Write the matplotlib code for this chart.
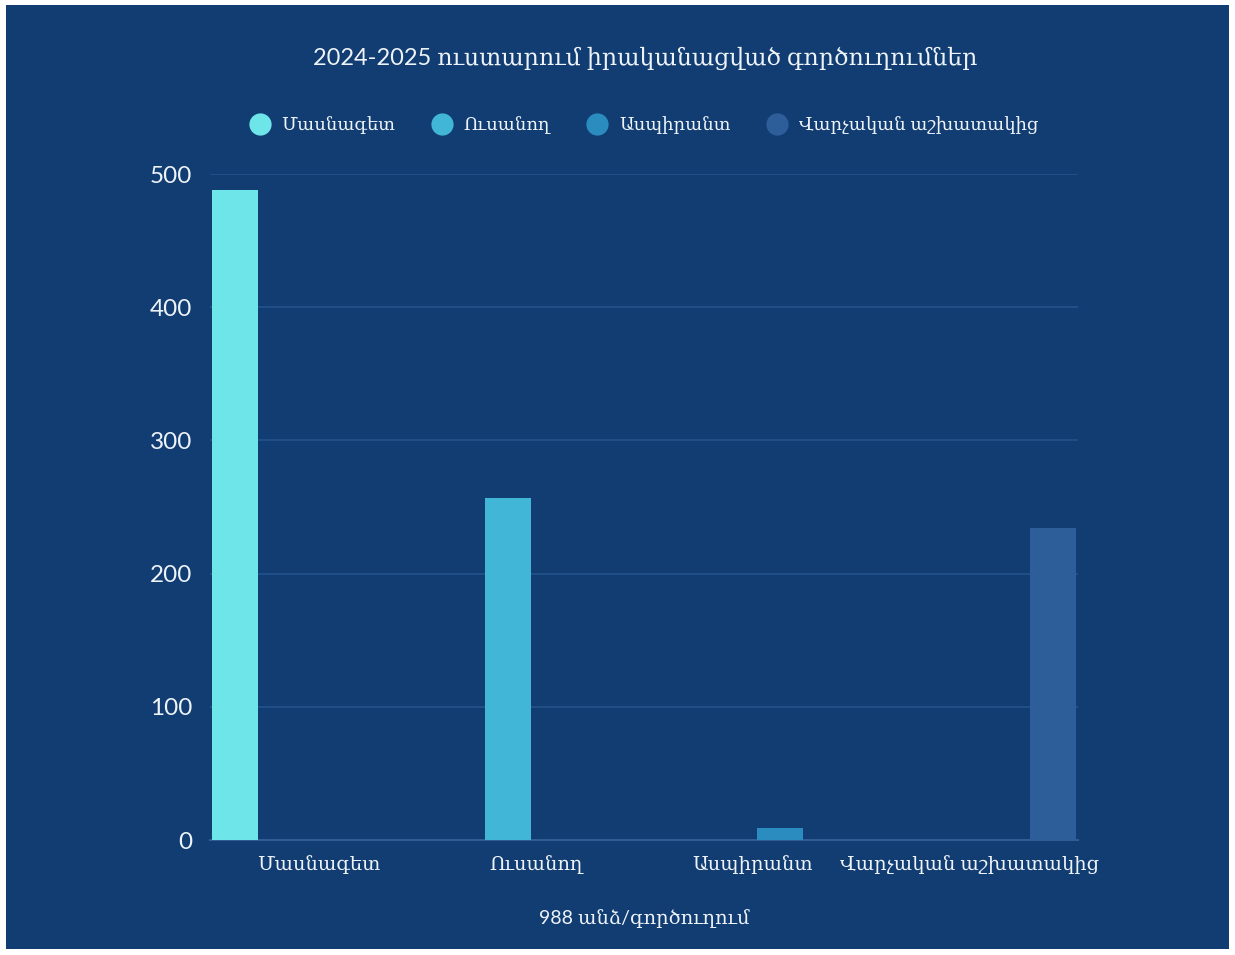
import matplotlib.pyplot as plt
import numpy as np
from matplotlib.lines import Line2D
from matplotlib.patches import Rectangle

plt.rcParams["font.family"] = ["Lato", "DejaVu Serif"]

# Դաշտեր
categories = ["Մասնագետ", "Ուսանող", "Ասպիրանտ", "Վարչական աշխատակից"]
series = ["Մասնագետ", "Ուսանող", "Ասպիրանտ", "Վարչական աշխատակից"]
values = [488, 257, 9, 234]
colors = ["#6ee6e9", "#41b6d6", "#2b8cbf", "#2e5e99"]
yticks = [0, 100, 200, 300, 400, 500]

title = "2024-2025 ուստարում իրականացված գործուղումներ"
xlabel = "988 անձ/գործուղում"

BG = "#113d73"
GRID = "#24528c"
TXT = "#eef3f8"

fig = plt.figure(figsize=(12.35, 9.55), dpi=100, facecolor="white")
fig.patches.append(Rectangle((6 / 1235, 6 / 955), 1223 / 1235, 944 / 955,
                             transform=fig.transFigure, facecolor=BG,
                             edgecolor="none", zorder=-10))

ax = fig.add_axes([210 / 1235, 1 - 840 / 955, 868 / 1235, 666 / 955])
ax.set_facecolor(BG)
ax.patch.set_alpha(0)

x = np.arange(len(categories))
slot = 0.258
width = 0.212
for i, (name, val, col) in enumerate(zip(series, values, colors)):
    ax.bar(x[i] + (i - 1.5) * slot, val, width=width, color=col, zorder=3)

ax.set_xlim(-0.5, len(categories) - 0.5)
ax.set_ylim(0, 500)
ax.set_yticks(yticks)
ax.set_xticks(x)
ax.set_xticklabels(categories, fontsize=14, color=TXT)
ax.tick_params(axis="y", labelsize=17.5, colors=TXT, length=0, pad=13)
ax.tick_params(axis="x", length=0, pad=11)
ax.grid(axis="y", color=GRID, linewidth=1.2, zorder=0)
for s in ["top", "right", "left"]:
    ax.spines[s].set_visible(False)
ax.spines["bottom"].set_color("#2f5d94")
ax.spines["bottom"].set_linewidth(1.5)

ax.set_xlabel(xlabel, fontsize=14, color=TXT, labelpad=25)

fig.text(645 / 1235, 1 - 58 / 955, title, ha="center", va="center",
         fontsize=17, color=TXT)

handles = [Line2D([], [], marker="o", linestyle="none", markersize=16,
                  markerfacecolor=c, markeredgecolor="none") for c in colors]
leg = fig.legend(handles, series, loc="center", ncol=4, frameon=False,
                 bbox_to_anchor=(640 / 1235, 1 - 125 / 955), fontsize=13,
                 handletextpad=0.2, columnspacing=1.6)
for t in leg.get_texts():
    t.set_color(TXT)

fig.savefig("out.png", dpi=100, facecolor="white")
